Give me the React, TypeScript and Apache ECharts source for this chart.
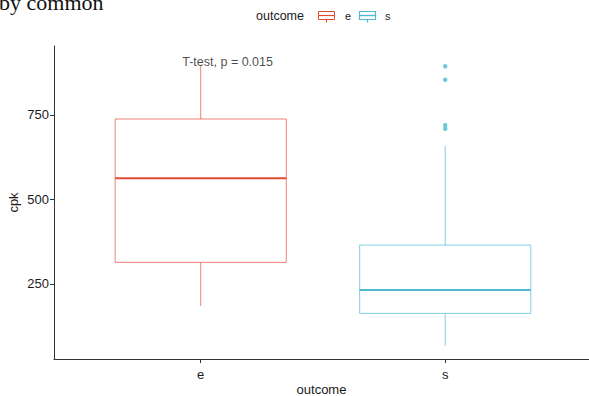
import React, { useEffect, useRef } from "react";
import * as echarts from "echarts";

const categories = ["e", "s"];
const whiskerLow = [185, 67];
const q1 = [314, 163];
const medians = [563, 232];
const q3 = [738, 365];
const whiskerHigh = [898, 658];
const outlierGroup = [2, 2, 2, 2];
const outlierValues = [894, 854, 720, 709];
const colors = ["#E64B35", "#4DBBD5"];
const yTicks = [250, 500, 750];
const xTicks = [1, 2];
const pLabel = "T-test, p = 0.015";
const pLabelPos = [1.11, 908];

const FONT = "'Liberation Sans', Arial, sans-serif";

export default function App() {
  const ref = useRef<HTMLDivElement>(null);
  useEffect(() => {
    if (!ref.current) return;
    const chart = echarts.init(ref.current, null, { renderer: "svg" });
    const boxData = categories.map((_, i) => [
      i + 1,
      whiskerLow[i],
      q1[i],
      medians[i],
      q3[i],
      whiskerHigh[i],
      i,
    ]);
    const axisColor = "#333333";
    const textColor = "#1a1a1a";
    chart.setOption({
      animation: false,
      grid: {
        left: 54,
        right: 0,
        top: 46,
        bottom: 37,
        containLabel: false,
        outerBoundsMode: "none",
      },
      xAxis: {
        type: "value",
        min: 0.4,
        max: 2.588,
        name: "outcome",
        nameLocation: "middle",
        nameGap: 24,
        nameMoveOverlap: false,
        nameTextStyle: { fontFamily: FONT, fontSize: 13, lineHeight: 12, color: textColor },
        axisLine: { show: true, lineStyle: { color: axisColor, width: 1 } },
        axisTick: { show: true, length: 4, customValues: xTicks, lineStyle: { color: axisColor } },
        axisLabel: {
          customValues: xTicks,
          formatter: (v: number) => categories[Math.round(v) - 1] ?? "",
          fontFamily: FONT,
          fontSize: 13,
          color: textColor,
          margin: 9,
        },
        splitLine: { show: false },
      },
      yAxis: {
        type: "value",
        min: 28,
        max: 954,
        name: "cpk",
        nameLocation: "middle",
        nameGap: 34,
        nameMoveOverlap: false,
        nameRotate: 90,
        nameTextStyle: { fontFamily: FONT, fontSize: 13, color: textColor },
        axisLine: { show: true, lineStyle: { color: axisColor, width: 1 } },
        axisTick: { show: true, length: 4, customValues: yTicks, lineStyle: { color: axisColor } },
        axisLabel: {
          customValues: yTicks,
          fontFamily: FONT,
          fontSize: 13,
          color: textColor,
          margin: 5,
        },
        splitLine: { show: false },
      },
      series: [
        {
          type: "custom",
          data: boxData,
          renderItem: (params: any, api: any) => {
            const x = api.value(0);
            const idx = api.value(6);
            const col = colors[idx];
            const w = api.size([0.7, 0])[0];
            const pLow = api.coord([x, api.value(1)]);
            const pQ1 = api.coord([x, api.value(2)]);
            const pMed = api.coord([x, api.value(3)]);
            const pQ3 = api.coord([x, api.value(4)]);
            const pHigh = api.coord([x, api.value(5)]);
            const cx = pMed[0];
            const edge = { stroke: col, lineWidth: 1, opacity: 0.7, fill: "none" };
            return {
              type: "group",
              children: [
                { type: "line", shape: { x1: cx, y1: pHigh[1], x2: cx, y2: pQ3[1] }, style: edge },
                { type: "line", shape: { x1: cx, y1: pQ1[1], x2: cx, y2: pLow[1] }, style: edge },
                {
                  type: "rect",
                  shape: { x: cx - w / 2, y: pQ3[1], width: w, height: pQ1[1] - pQ3[1] },
                  style: { ...edge, fill: "transparent" },
                },
                {
                  type: "line",
                  shape: { x1: cx - w / 2, y1: pMed[1], x2: cx + w / 2, y2: pMed[1] },
                  style: { stroke: col, lineWidth: 2 },
                },
              ],
            };
          },
        },
        {
          type: "scatter",
          data: outlierGroup.map((g, i) => [g, outlierValues[i]]),
          symbol: "circle",
          symbolSize: 4.5,
          itemStyle: { color: colors[1] },
        },
        {
          type: "scatter",
          data: [pLabelPos],
          symbolSize: 0,
          silent: true,
          label: {
            show: true,
            position: "inside",
            formatter: pLabel,
            fontFamily: FONT,
            fontSize: 12.5,
            color: textColor,
          },
        },
      ],
      graphic: [
        {
          type: "text",
          left: -1,
          top: -9,
          style: {
            text: "by common",
            fontFamily: "'Liberation Serif', 'Times New Roman', serif",
            fontSize: 22,
            fill: "#111",
          },
        },
        {
          type: "text",
          x: 256,
          y: 16,
          style: {
            text: "outcome",
            fontFamily: FONT,
            fontSize: 12.5,
            fill: textColor,
            verticalAlign: "middle",
          },
        },
        {
          type: "group",
          children: [
            { type: "rect", shape: { x: 318.5, y: 11.5, width: 16, height: 8 }, style: { stroke: colors[0], fill: "none", lineWidth: 1 } },
            { type: "line", shape: { x1: 318.5, y1: 15.5, x2: 334.5, y2: 15.5 }, style: { stroke: colors[0], lineWidth: 1.2 } },
            { type: "line", shape: { x1: 326.5, y1: 19.5, x2: 326.5, y2: 22.5 }, style: { stroke: colors[0], lineWidth: 1 } },
            { type: "text", x: 345, y: 16, style: { text: categories[0], fontFamily: FONT, fontSize: 11, fill: textColor, verticalAlign: "middle" } },
            { type: "rect", shape: { x: 359.5, y: 11.5, width: 16, height: 8 }, style: { stroke: colors[1], fill: "none", lineWidth: 1.2 } },
            { type: "line", shape: { x1: 359.5, y1: 15.5, x2: 375.5, y2: 15.5 }, style: { stroke: colors[1], lineWidth: 1.4 } },
            { type: "line", shape: { x1: 367.5, y1: 19.5, x2: 367.5, y2: 22.5 }, style: { stroke: colors[1], lineWidth: 1.2 } },
            { type: "text", x: 385, y: 16, style: { text: categories[1], fontFamily: FONT, fontSize: 11, fill: textColor, verticalAlign: "middle" } },
          ],
        },
      ],
    });
    return () => chart.dispose();
  }, []);
  return (
    <div
      ref={ref}
      style={{ position: "fixed", left: 0, top: 0, width: 589, height: 396, background: "#fff" }}
    />
  );
}
